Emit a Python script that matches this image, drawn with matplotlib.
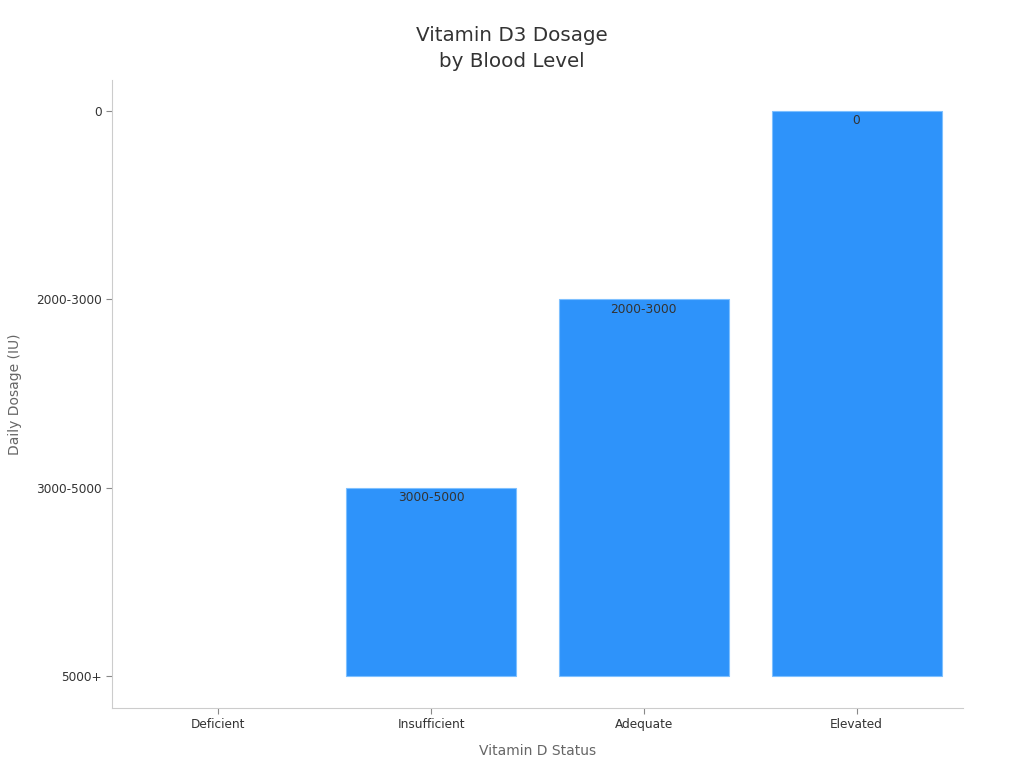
import matplotlib
matplotlib.use("Agg")
import matplotlib.pyplot as plt

categories = ["Deficient", "Insufficient", "Adequate", "Elevated"]
dosage_levels = ["5000+", "3000-5000", "2000-3000", "0"]  # y-axis categories, bottom to top
dosage = ["5000+", "3000-5000", "2000-3000", "0"]

plt.rcParams['font.family'] = ['DejaVu Sans']

fig = plt.figure(figsize=(10.24, 7.68), dpi=100)
ax = fig.add_axes([0.1094, 0.0781, 0.8310, 0.8177])

xs = list(range(len(categories)))
heights = [dosage_levels.index(d) for d in dosage]
bars = ax.bar(xs, heights, width=0.8, color="#2E93FA",
              edgecolor=["#7ec0ff" if h > 0 else "none" for h in heights], linewidth=0.8)

for x, h, d in zip(xs, heights, dosage):
    if h > 0:
        ax.annotate(d, (x, h), xytext=(0, -7), textcoords="offset points",
                    ha="center", va="center", fontsize=8.8, color="#333333")

ax.set_xlim(-0.5, len(categories) - 0.5)
ax.set_ylim(-0.17, 3.165)
ax.set_xticks(xs)
ax.set_xticklabels(categories)
ax.set_yticks(range(len(dosage_levels)))
ax.set_yticklabels(dosage_levels)

for s in ["top", "right"]:
    ax.spines[s].set_visible(False)
for s in ["left", "bottom"]:
    ax.spines[s].set_color("#cccccc")
    ax.spines[s].set_linewidth(0.8)
ax.tick_params(axis="both", colors="#888888", labelcolor="#333333", labelsize=8.7, length=4, width=0.8)

ax.set_xlabel("Vitamin D Status", fontsize=10, color="#666666", labelpad=9)
ax.set_ylabel("Daily Dosage (IU)", fontsize=10, color="#666666", labelpad=10)
fig.suptitle("Vitamin D3 Dosage\nby Blood Level", fontsize=14.3, color="#333333",
             y=0.966, linespacing=1.45)

fig.savefig("out.png", dpi=100)
